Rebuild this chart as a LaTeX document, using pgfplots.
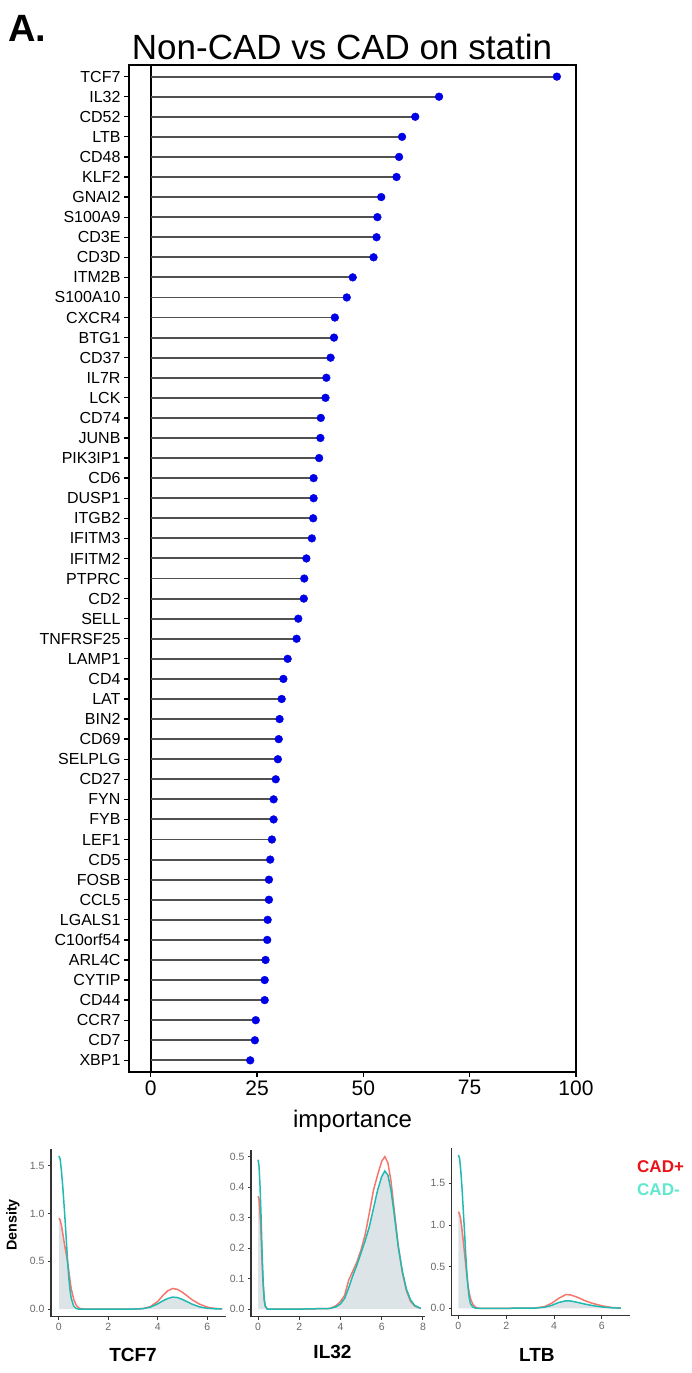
\documentclass[border=0pt]{standalone}
\usepackage{pgfplots}
\pgfplotsset{compat=1.18}
\usepackage{pgfplotstable}
\usepackage{fontspec}
\setmainfont{Liberation Sans}

\definecolor{dotblue}{RGB}{0,0,232}
\definecolor{stem}{RGB}{80,80,80}
\definecolor{cadpos}{RGB}{245,118,109}
\definecolor{cadneg}{RGB}{32,186,178}
\definecolor{dfill}{RGB}{221,228,231}
\definecolor{legred}{RGB}{232,20,25}
\definecolor{legcyan}{RGB}{95,232,205}
\definecolor{tickgray}{RGB}{105,105,105}

\newcommand{\fs}[1]{\fontsize{#1}{#1}\selectfont}

% importance per gene, idx 50 = top row
\pgfplotstableread{
idx gene value
50 TCF7 95.5
49 IL32 67.8
48 CD52 62.2
47 LTB 59.1
46 CD48 58.4
45 KLF2 57.8
44 GNAI2 54.2
43 S100A9 53.3
42 CD3E 53.1
41 CD3D 52.4
40 ITM2B 47.5
39 S100A10 46.1
38 CXCR4 43.3
37 BTG1 43.1
36 CD37 42.3
35 IL7R 41.3
34 LCK 41.1
33 CD74 40.0
32 JUNB 39.9
31 PIK3IP1 39.6
30 CD6 38.3
29 DUSP1 38.3
28 ITGB2 38.2
27 IFITM3 37.9
26 IFITM2 36.6
25 PTPRC 36.1
24 CD2 36.0
23 SELL 34.7
22 TNFRSF25 34.3
21 LAMP1 32.2
20 CD4 31.2
19 LAT 30.8
18 BIN2 30.3
17 CD69 30.1
16 SELPLG 29.9
15 CD27 29.4
14 FYN 28.9
13 FYB 28.9
12 LEF1 28.5
11 CD5 28.1
10 FOSB 27.8
9 CCL5 27.8
8 LGALS1 27.5
7 C10orf54 27.4
6 ARL4C 27.0
5 CYTIP 26.8
4 CD44 26.8
3 CCR7 24.7
2 CD7 24.5
1 XBP1 23.4
}\genes

% densities: x, CAD+ (r), CAD- (c), shared area (f)
\pgfplotstableread{
x r c f
0 0.95 1.60 0.95
0.05 0.93 1.57 0.93
0.1 0.88 1.45 0.88
0.15 0.80 1.30 0.80
0.2 0.72 1.12 0.72
0.25 0.64 0.93 0.64
0.3 0.57 0.72 0.57
0.35 0.49 0.51 0.49
0.4 0.40 0.33 0.33
0.45 0.30 0.20 0.20
0.5 0.21 0.11 0.11
0.6 0.10 0.03 0.03
0.7 0.04 0.006 0.006
0.8 0.012 0 0
0.9 0.002 0 0
1.0 0 0 0
2.0 0 0 0
3.0 0 0 0
3.4 0.005 0.004 0.004
3.7 0.025 0.02 0.02
4.0 0.08 0.055 0.055
4.2 0.14 0.085 0.085
4.4 0.19 0.11 0.11
4.6 0.215 0.125 0.125
4.8 0.205 0.12 0.12
5.0 0.175 0.10 0.10
5.2 0.135 0.075 0.075
5.4 0.095 0.05 0.05
5.7 0.05 0.022 0.022
6.0 0.02 0.008 0.008
6.3 0.007 0.003 0.003
6.6 0.002 0.001 0.001
}\tcf

\pgfplotstableread{
x r c f
0 0.37 0.49 0.37
0.05 0.36 0.47 0.36
0.1 0.31 0.40 0.31
0.15 0.24 0.30 0.24
0.2 0.15 0.18 0.15
0.25 0.08 0.09 0.08
0.3 0.03 0.035 0.03
0.35 0.01 0.01 0.01
0.45 0 0 0
2.0 0 0 0
3.5 0.002 0.002 0.002
3.8 0.012 0.008 0.008
4.0 0.025 0.017 0.017
4.2 0.045 0.035 0.035
4.4 0.095 0.07 0.07
4.6 0.125 0.11 0.11
4.8 0.155 0.145 0.145
5.0 0.195 0.185 0.185
5.2 0.245 0.225 0.225
5.4 0.315 0.27 0.27
5.6 0.39 0.33 0.33
5.8 0.44 0.39 0.39
6.0 0.485 0.435 0.435
6.15 0.50 0.453 0.453
6.3 0.48 0.44 0.44
6.45 0.42 0.39 0.39
6.6 0.33 0.315 0.315
6.8 0.21 0.205 0.205
7.0 0.12 0.125 0.12
7.2 0.06 0.065 0.06
7.4 0.025 0.03 0.025
7.6 0.01 0.012 0.01
7.9 0.002 0.002 0.002
}\ilt

\pgfplotstableread{
x r c f
0 1.16 1.84 1.16
0.05 1.13 1.80 1.13
0.1 1.06 1.65 1.06
0.15 0.95 1.45 0.95
0.2 0.82 1.20 0.82
0.25 0.68 0.95 0.68
0.3 0.54 0.68 0.54
0.35 0.40 0.45 0.40
0.4 0.28 0.26 0.26
0.45 0.19 0.13 0.13
0.5 0.12 0.06 0.06
0.6 0.05 0.015 0.015
0.7 0.015 0.003 0.003
0.8 0.004 0 0
0.9 0 0 0
2.0 0 0 0
3.2 0.003 0.002 0.002
3.6 0.02 0.012 0.012
3.9 0.06 0.035 0.035
4.2 0.12 0.07 0.07
4.5 0.165 0.09 0.09
4.7 0.16 0.087 0.087
5.0 0.13 0.07 0.07
5.3 0.09 0.05 0.05
5.6 0.06 0.033 0.033
6.0 0.03 0.016 0.016
6.4 0.01 0.006 0.006
6.8 0.002 0.002 0.002
}\ltb

\pgfplotsset{
  dens/.style={
    scale only axis, anchor=south west,
    axis x line*=bottom, axis y line*=left,
    axis line style={draw=black!80, line width=1.1pt, -},
    every outer x axis line/.append style={-},
    every outer y axis line/.append style={-},
    tick style={draw=black!80, line width=0.9pt},
    major tick length=3pt, tick align=outside,
    ticklabel style={font=\fs{10.5}, text=tickgray},
    /pgf/number format/assume math mode=true,
    yticklabel style={/pgf/number format/.cd, fixed, fixed zerofill, precision=1},
    xlabel style={font=\bfseries\fs{19}, at={(axis description cs:0.5,0)}, anchor=base},
  },
  rline/.style={cadpos, line width=1.5pt},
  cline/.style={cadneg, line width=1.5pt},
}

\begin{document}
\begin{tikzpicture}
\path[use as bounding box] (0,0) rectangle (692pt,1373pt);

\node[font=\bfseries\fs{38}, anchor=base west, inner sep=0] at (8pt,1331pt) {A.};
\node[font=\fs{35}, anchor=base, inner sep=0] at (342pt,1313.5pt) {Non-CAD vs CAD on statin};

\begin{axis}[
  at={(129pt,301pt)}, anchor=south west, scale only axis,
  width=447pt, height=1007pt,
  xmin=-5.1, xmax=100, ymin=0.42, ymax=50.58,
  xtick={0,25,50,75,100}, ytick={1,...,50},
  yticklabels={XBP1,CD7,CCR7,CD44,CYTIP,ARL4C,C10orf54,LGALS1,CCL5,FOSB,CD5,LEF1,FYB,FYN,CD27,SELPLG,CD69,BIN2,LAT,CD4,LAMP1,TNFRSF25,SELL,CD2,PTPRC,IFITM2,IFITM3,ITGB2,DUSP1,CD6,PIK3IP1,JUNB,CD74,LCK,IL7R,CD37,BTG1,CXCR4,S100A10,ITM2B,CD3D,CD3E,S100A9,GNAI2,KLF2,CD48,LTB,CD52,IL32,TCF7},
  tick pos=left, tick align=outside, major tick length=5pt,
  tick style={black, line width=1.3pt},
  axis line style={black, line width=1.8pt},
  xticklabel style={font=\fs{21}}, yticklabel style={font=\fs{16}},
  /pgf/number format/assume math mode=true,
  xlabel={importance},
  xlabel style={font=\fs{24}, at={(axis description cs:0.5,0)}, anchor=base, yshift=-56pt},
]
\addplot[black, line width=1.8pt] coordinates {(0,0.42) (0,50.58)};
\addplot[xcomb, stem, line width=1.9pt] table[x=value, y=idx] {\genes};
\addplot[only marks, mark=*, mark size=3.9pt, dotblue] table[x=value, y=idx] {\genes};
\end{axis}

\begin{axis}[dens, at={(51pt,56.3pt)}, width=175pt, height=167.4pt,
  xmin=-0.32, xmax=6.76, ymin=-0.08, ymax=1.67,
  xtick={0,2,4,6}, ytick={0,0.5,1,1.5},
  xlabel={TCF7}, xlabel style={yshift=-45pt, xshift=-5.5pt}]
\addplot[fill=dfill, draw=none] table[x=x, y=f] {\tcf} \closedcycle;
\addplot[rline] table[x=x, y=r] {\tcf};
\addplot[cline] table[x=x, y=c] {\tcf};
\end{axis}

\begin{axis}[dens, at={(251pt,56.3pt)}, width=174pt, height=166.7pt,
  xmin=-0.34, xmax=8.1, ymin=-0.025, ymax=0.522,
  xtick={0,2,4,6,8}, ytick={0,0.1,0.2,0.3,0.4,0.5},
  xlabel={IL32}, xlabel style={yshift=-41.7pt, xshift=-5.5pt}]
\addplot[fill=dfill, draw=none] table[x=x, y=f] {\ilt} \closedcycle;
\addplot[rline] table[x=x, y=r] {\ilt};
\addplot[cline] table[x=x, y=c] {\ilt};
\end{axis}

\begin{axis}[dens, at={(451.7pt,57.3pt)}, width=178.3pt, height=167.4pt,
  xmin=-0.28, xmax=7.18, ymin=-0.089, ymax=1.92,
  xtick={0,2,4,6}, ytick={0,0.5,1,1.5},
  xlabel={LTB}, xlabel style={yshift=-46pt, xshift=-4pt}]
\addplot[fill=dfill, draw=none] table[x=x, y=f] {\ltb} \closedcycle;
\addplot[rline] table[x=x, y=r] {\ltb};
\addplot[cline] table[x=x, y=c] {\ltb};
\end{axis}

\node[rotate=90, font=\bfseries\fs{14.3}] at (13pt,148pt) {Density};
\node[font=\bfseries\fs{17}, text=legred, anchor=west, inner sep=0] at (637pt,206.3pt) {CAD+};
\node[font=\bfseries\fs{17}, text=legcyan, anchor=west, inner sep=0] at (637pt,183pt) {CAD-};
\end{tikzpicture}
\end{document}
